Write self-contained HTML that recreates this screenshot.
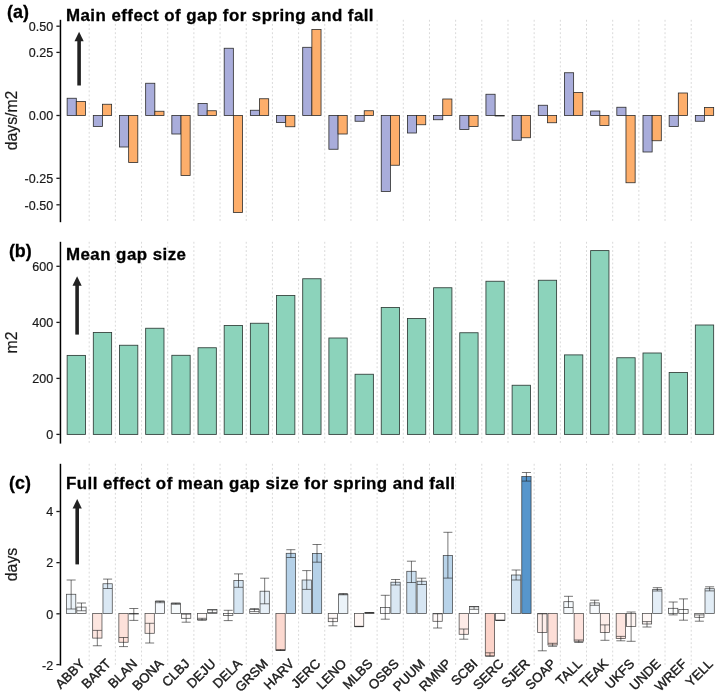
<!DOCTYPE html>
<html><head><meta charset="utf-8"><title>Gap effects</title>
<style>html,body{margin:0;padding:0;background:#fff}svg{display:block;will-change:transform}</style></head>
<body>
<svg width="720" height="696" viewBox="0 0 720 696">
<rect width="720" height="696" fill="#fff"/>
<g stroke="#d9d9d9" stroke-width="1" stroke-dasharray="1.9 2.25" fill="none">
<path d="M89.19 19.80V222.20"/>
<path d="M115.36 19.80V222.20"/>
<path d="M141.54 19.80V222.20"/>
<path d="M167.71 19.80V222.20"/>
<path d="M193.89 19.80V222.20"/>
<path d="M220.06 19.80V222.20"/>
<path d="M246.24 19.80V222.20"/>
<path d="M272.41 19.80V222.20"/>
<path d="M298.59 19.80V222.20"/>
<path d="M324.76 19.80V222.20"/>
<path d="M350.94 19.80V222.20"/>
<path d="M377.11 19.80V222.20"/>
<path d="M403.29 19.80V222.20"/>
<path d="M429.46 19.80V222.20"/>
<path d="M455.64 19.80V222.20"/>
<path d="M481.81 19.80V222.20"/>
<path d="M507.99 19.80V222.20"/>
<path d="M534.16 19.80V222.20"/>
<path d="M560.34 19.80V222.20"/>
<path d="M586.51 19.80V222.20"/>
<path d="M612.69 19.80V222.20"/>
<path d="M638.86 19.80V222.20"/>
<path d="M665.04 19.80V222.20"/>
<path d="M691.21 19.80V222.20"/>
<path d="M89.19 241.80V443.60"/>
<path d="M115.36 241.80V443.60"/>
<path d="M141.54 241.80V443.60"/>
<path d="M167.71 241.80V443.60"/>
<path d="M193.89 241.80V443.60"/>
<path d="M220.06 241.80V443.60"/>
<path d="M246.24 241.80V443.60"/>
<path d="M272.41 241.80V443.60"/>
<path d="M298.59 241.80V443.60"/>
<path d="M324.76 241.80V443.60"/>
<path d="M350.94 241.80V443.60"/>
<path d="M377.11 241.80V443.60"/>
<path d="M403.29 241.80V443.60"/>
<path d="M429.46 241.80V443.60"/>
<path d="M455.64 241.80V443.60"/>
<path d="M481.81 241.80V443.60"/>
<path d="M507.99 241.80V443.60"/>
<path d="M534.16 241.80V443.60"/>
<path d="M560.34 241.80V443.60"/>
<path d="M586.51 241.80V443.60"/>
<path d="M612.69 241.80V443.60"/>
<path d="M638.86 241.80V443.60"/>
<path d="M665.04 241.80V443.60"/>
<path d="M691.21 241.80V443.60"/>
<path d="M89.19 463.80V665.60"/>
<path d="M115.36 463.80V665.60"/>
<path d="M141.54 463.80V665.60"/>
<path d="M167.71 463.80V665.60"/>
<path d="M193.89 463.80V665.60"/>
<path d="M220.06 463.80V665.60"/>
<path d="M246.24 463.80V665.60"/>
<path d="M272.41 463.80V665.60"/>
<path d="M298.59 463.80V665.60"/>
<path d="M324.76 463.80V665.60"/>
<path d="M350.94 463.80V665.60"/>
<path d="M377.11 463.80V665.60"/>
<path d="M403.29 463.80V665.60"/>
<path d="M429.46 463.80V665.60"/>
<path d="M455.64 463.80V665.60"/>
<path d="M481.81 463.80V665.60"/>
<path d="M507.99 463.80V665.60"/>
<path d="M534.16 463.80V665.60"/>
<path d="M560.34 463.80V665.60"/>
<path d="M586.51 463.80V665.60"/>
<path d="M612.69 463.80V665.60"/>
<path d="M638.86 463.80V665.60"/>
<path d="M665.04 463.80V665.60"/>
<path d="M691.21 463.80V665.60"/>
</g>
<g stroke="#2b2b2b" stroke-width="0.8">
<rect x="67.14" y="98.25" width="9.16" height="17.25" fill="#a9addb"/>
<rect x="76.30" y="101.50" width="9.16" height="14.00" fill="#fdae6b"/>
<rect x="93.31" y="115.50" width="9.16" height="10.90" fill="#a9addb"/>
<rect x="102.47" y="104.25" width="9.16" height="11.25" fill="#fdae6b"/>
<rect x="119.49" y="115.50" width="9.16" height="31.50" fill="#a9addb"/>
<rect x="128.65" y="115.50" width="9.16" height="47.00" fill="#fdae6b"/>
<rect x="145.66" y="83.25" width="9.16" height="32.25" fill="#a9addb"/>
<rect x="154.82" y="111.25" width="9.16" height="4.25" fill="#fdae6b"/>
<rect x="171.84" y="115.50" width="9.16" height="18.50" fill="#a9addb"/>
<rect x="181.00" y="115.50" width="9.16" height="60.00" fill="#fdae6b"/>
<rect x="198.02" y="103.50" width="9.16" height="12.00" fill="#a9addb"/>
<rect x="207.18" y="110.75" width="9.16" height="4.75" fill="#fdae6b"/>
<rect x="224.19" y="48.25" width="9.16" height="67.25" fill="#a9addb"/>
<rect x="233.35" y="115.50" width="9.16" height="97.00" fill="#fdae6b"/>
<rect x="250.36" y="110.25" width="9.16" height="5.25" fill="#a9addb"/>
<rect x="259.52" y="98.75" width="9.16" height="16.75" fill="#fdae6b"/>
<rect x="276.54" y="115.50" width="9.16" height="7.00" fill="#a9addb"/>
<rect x="285.70" y="115.50" width="9.16" height="11.25" fill="#fdae6b"/>
<rect x="302.71" y="47.30" width="9.16" height="68.20" fill="#a9addb"/>
<rect x="311.88" y="29.40" width="9.16" height="86.10" fill="#fdae6b"/>
<rect x="328.89" y="115.50" width="9.16" height="33.75" fill="#a9addb"/>
<rect x="338.05" y="115.50" width="9.16" height="18.50" fill="#fdae6b"/>
<rect x="355.06" y="115.50" width="9.16" height="5.75" fill="#a9addb"/>
<rect x="364.23" y="110.75" width="9.16" height="4.75" fill="#fdae6b"/>
<rect x="381.24" y="115.50" width="9.16" height="76.00" fill="#a9addb"/>
<rect x="390.40" y="115.50" width="9.16" height="49.75" fill="#fdae6b"/>
<rect x="407.42" y="115.50" width="9.16" height="17.50" fill="#a9addb"/>
<rect x="416.58" y="115.50" width="9.16" height="9.25" fill="#fdae6b"/>
<rect x="433.59" y="115.50" width="9.16" height="4.25" fill="#a9addb"/>
<rect x="442.75" y="99.00" width="9.16" height="16.50" fill="#fdae6b"/>
<rect x="459.76" y="115.50" width="9.16" height="13.90" fill="#a9addb"/>
<rect x="468.93" y="115.50" width="9.16" height="10.90" fill="#fdae6b"/>
<rect x="485.94" y="94.25" width="9.16" height="21.25" fill="#a9addb"/>
<rect x="495.10" y="115.50" width="9.16" height="0.50" fill="#fdae6b"/>
<rect x="512.12" y="115.50" width="9.16" height="24.75" fill="#a9addb"/>
<rect x="521.27" y="115.50" width="9.16" height="22.25" fill="#fdae6b"/>
<rect x="538.29" y="105.25" width="9.16" height="10.25" fill="#a9addb"/>
<rect x="547.45" y="115.50" width="9.16" height="7.25" fill="#fdae6b"/>
<rect x="564.47" y="72.75" width="9.16" height="42.75" fill="#a9addb"/>
<rect x="573.62" y="92.40" width="9.16" height="23.10" fill="#fdae6b"/>
<rect x="590.64" y="111.00" width="9.16" height="4.50" fill="#a9addb"/>
<rect x="599.80" y="115.50" width="9.16" height="10.00" fill="#fdae6b"/>
<rect x="616.82" y="107.25" width="9.16" height="8.25" fill="#a9addb"/>
<rect x="625.98" y="115.50" width="9.16" height="67.25" fill="#fdae6b"/>
<rect x="642.99" y="115.50" width="9.16" height="36.50" fill="#a9addb"/>
<rect x="652.15" y="115.50" width="9.16" height="25.25" fill="#fdae6b"/>
<rect x="669.16" y="115.50" width="9.16" height="10.90" fill="#a9addb"/>
<rect x="678.32" y="93.00" width="9.16" height="22.50" fill="#fdae6b"/>
<rect x="695.34" y="115.50" width="9.16" height="5.75" fill="#a9addb"/>
<rect x="704.50" y="107.50" width="9.16" height="8.00" fill="#fdae6b"/>
</g>
<g stroke="#2f3c37" stroke-width="0.85" fill="#8cd3bb">
<rect x="67.14" y="355.40" width="18.32" height="79.00"/>
<rect x="93.31" y="332.50" width="18.32" height="101.90"/>
<rect x="119.49" y="345.25" width="18.32" height="89.15"/>
<rect x="145.66" y="328.25" width="18.32" height="106.15"/>
<rect x="171.84" y="355.30" width="18.32" height="79.10"/>
<rect x="198.02" y="347.75" width="18.32" height="86.65"/>
<rect x="224.19" y="325.50" width="18.32" height="108.90"/>
<rect x="250.36" y="323.25" width="18.32" height="111.15"/>
<rect x="276.54" y="295.50" width="18.32" height="138.90"/>
<rect x="302.71" y="278.75" width="18.32" height="155.65"/>
<rect x="328.89" y="338.00" width="18.32" height="96.40"/>
<rect x="355.06" y="374.25" width="18.32" height="60.15"/>
<rect x="381.24" y="307.50" width="18.32" height="126.90"/>
<rect x="407.42" y="318.50" width="18.32" height="115.90"/>
<rect x="433.59" y="287.75" width="18.32" height="146.65"/>
<rect x="459.76" y="332.75" width="18.32" height="101.65"/>
<rect x="485.94" y="281.25" width="18.32" height="153.15"/>
<rect x="512.12" y="385.25" width="18.32" height="49.15"/>
<rect x="538.29" y="280.25" width="18.32" height="154.15"/>
<rect x="564.47" y="354.90" width="18.32" height="79.50"/>
<rect x="590.64" y="250.60" width="18.32" height="183.80"/>
<rect x="616.82" y="357.75" width="18.32" height="76.65"/>
<rect x="642.99" y="353.00" width="18.32" height="81.40"/>
<rect x="669.16" y="372.50" width="18.32" height="61.90"/>
<rect x="695.34" y="325.00" width="18.32" height="109.40"/>
</g>
<g stroke="rgba(30,30,30,0.8)" stroke-width="0.75">
<rect x="66.50" y="594.25" width="9.30" height="19.25" fill="rgb(235,243,249)"/>
<rect x="76.80" y="607.10" width="9.30" height="6.40" fill="rgb(250,252,254)"/>
<rect x="92.67" y="613.50" width="9.30" height="24.60" fill="rgb(253,230,224)"/>
<rect x="102.97" y="583.75" width="9.30" height="29.75" fill="rgb(218,232,244)"/>
<rect x="118.85" y="613.50" width="9.30" height="28.75" fill="rgb(253,225,218)"/>
<rect x="129.15" y="613.50" width="9.30" height="0.50" fill="rgb(255,255,255)"/>
<rect x="145.02" y="613.50" width="9.30" height="19.80" fill="rgb(254,237,232)"/>
<rect x="155.32" y="601.30" width="9.30" height="12.20" fill="rgb(244,248,252)"/>
<rect x="171.20" y="603.30" width="9.30" height="10.20" fill="rgb(246,250,252)"/>
<rect x="181.50" y="613.50" width="9.30" height="4.80" fill="rgb(255,252,251)"/>
<rect x="197.38" y="613.50" width="9.30" height="6.20" fill="rgb(255,251,250)"/>
<rect x="207.68" y="609.50" width="9.30" height="4.00" fill="rgb(252,253,254)"/>
<rect x="223.55" y="613.50" width="9.30" height="1.90" fill="rgb(255,254,254)"/>
<rect x="233.85" y="580.50" width="9.30" height="33.00" fill="rgb(214,230,243)"/>
<rect x="249.72" y="609.40" width="9.30" height="4.10" fill="rgb(252,253,254)"/>
<rect x="260.02" y="591.20" width="9.30" height="22.30" fill="rgb(231,240,248)"/>
<rect x="275.90" y="613.50" width="9.30" height="37.00" fill="rgb(252,217,208)"/>
<rect x="286.20" y="553.30" width="9.30" height="60.20" fill="rgb(181,209,232)"/>
<rect x="302.08" y="580.00" width="9.30" height="33.50" fill="rgb(214,229,242)"/>
<rect x="312.38" y="553.40" width="9.30" height="60.10" fill="rgb(181,209,232)"/>
<rect x="328.25" y="613.50" width="9.30" height="8.20" fill="rgb(255,249,248)"/>
<rect x="338.55" y="594.20" width="9.30" height="19.30" fill="rgb(235,243,249)"/>
<rect x="354.43" y="613.50" width="9.30" height="13.00" fill="rgb(254,245,242)"/>
<rect x="364.73" y="612.70" width="9.30" height="0.80" fill="rgb(254,255,255)"/>
<rect x="380.60" y="607.50" width="9.30" height="6.00" fill="rgb(251,252,254)"/>
<rect x="390.90" y="582.20" width="9.30" height="31.30" fill="rgb(217,231,243)"/>
<rect x="406.78" y="571.30" width="9.30" height="42.20" fill="rgb(203,223,239)"/>
<rect x="417.08" y="581.20" width="9.30" height="32.30" fill="rgb(215,230,243)"/>
<rect x="432.95" y="613.50" width="9.30" height="7.80" fill="rgb(255,249,248)"/>
<rect x="443.25" y="555.50" width="9.30" height="58.00" fill="rgb(184,211,233)"/>
<rect x="459.13" y="613.50" width="9.30" height="20.80" fill="rgb(254,235,231)"/>
<rect x="469.43" y="606.60" width="9.30" height="6.90" fill="rgb(250,252,253)"/>
<rect x="485.30" y="613.50" width="9.30" height="42.40" fill="rgb(252,211,201)"/>
<rect x="495.60" y="613.50" width="9.30" height="6.80" fill="rgb(255,250,249)"/>
<rect x="511.48" y="575.00" width="9.30" height="38.50" fill="rgb(208,226,241)"/>
<rect x="521.77" y="476.50" width="9.30" height="137.00" fill="rgb(87,150,204)"/>
<rect x="537.65" y="613.50" width="9.30" height="19.00" fill="rgb(254,238,234)"/>
<rect x="547.95" y="613.50" width="9.30" height="31.50" fill="rgb(253,222,215)"/>
<rect x="563.83" y="601.70" width="9.30" height="11.80" fill="rgb(245,249,252)"/>
<rect x="574.12" y="613.50" width="9.30" height="27.80" fill="rgb(253,226,220)"/>
<rect x="590.00" y="602.90" width="9.30" height="10.60" fill="rgb(246,249,252)"/>
<rect x="600.30" y="613.50" width="9.30" height="18.90" fill="rgb(254,238,234)"/>
<rect x="616.18" y="613.50" width="9.30" height="25.10" fill="rgb(253,229,223)"/>
<rect x="626.48" y="613.50" width="9.30" height="13.00" fill="rgb(254,245,242)"/>
<rect x="642.35" y="613.50" width="9.30" height="10.50" fill="rgb(254,247,245)"/>
<rect x="652.65" y="589.50" width="9.30" height="24.00" fill="rgb(228,238,247)"/>
<rect x="668.52" y="608.30" width="9.30" height="5.20" fill="rgb(251,253,254)"/>
<rect x="678.82" y="609.60" width="9.30" height="3.90" fill="rgb(252,253,254)"/>
<rect x="694.70" y="613.50" width="9.30" height="3.80" fill="rgb(255,253,252)"/>
<rect x="705.00" y="588.70" width="9.30" height="24.80" fill="rgb(226,237,246)"/>
<path d="M66.65 580.00H75.65M71.15 580.00V609.00M66.65 609.00H75.65" fill="none"/>
<path d="M76.95 603.00H85.95M81.45 603.00V610.75M76.95 610.75H85.95" fill="none"/>
<path d="M92.82 630.40H101.82M97.32 630.40V645.75M92.82 645.75H101.82" fill="none"/>
<path d="M103.12 579.10H112.12M107.62 579.10V588.50M103.12 588.50H112.12" fill="none"/>
<path d="M119.00 637.50H128.00M123.50 637.50V646.60M119.00 646.60H128.00" fill="none"/>
<path d="M129.30 608.50H138.30M133.80 608.50V620.40M129.30 620.40H138.30" fill="none"/>
<path d="M145.17 623.30H154.17M149.67 623.30V643.00M145.17 643.00H154.17" fill="none"/>
<path d="M155.47 601.00H164.47M159.97 601.00V602.70M155.47 602.70H164.47" fill="none"/>
<path d="M171.35 603.00H180.35M175.85 603.00V604.30M171.35 604.30H180.35" fill="none"/>
<path d="M181.65 614.20H190.65M186.15 614.20V622.20M181.65 622.20H190.65" fill="none"/>
<path d="M197.53 618.30H206.53M202.03 618.30V620.30M197.53 620.30H206.53" fill="none"/>
<path d="M207.83 610.00H216.83M212.33 610.00V612.50M207.83 612.50H216.83" fill="none"/>
<path d="M223.70 610.30H232.70M228.20 610.30V620.60M223.70 620.60H232.70" fill="none"/>
<path d="M234.00 573.90H243.00M238.50 573.90V587.30M234.00 587.30H243.00" fill="none"/>
<path d="M249.87 608.60H258.88M254.37 608.60V611.60M249.87 611.60H258.88" fill="none"/>
<path d="M260.17 578.20H269.17M264.67 578.20V603.80M260.17 603.80H269.17" fill="none"/>
<path d="M276.05 649.50H285.05M280.55 649.50V650.50M276.05 650.50H285.05" fill="none"/>
<path d="M286.35 549.70H295.35M290.85 549.70V557.50M286.35 557.50H295.35" fill="none"/>
<path d="M302.23 570.60H311.23M306.73 570.60V589.40M302.23 589.40H311.23" fill="none"/>
<path d="M312.52 544.50H321.52M317.02 544.50V562.20M312.52 562.20H321.52" fill="none"/>
<path d="M328.40 618.30H337.40M332.90 618.30V625.80M328.40 625.80H337.40" fill="none"/>
<path d="M338.70 593.50H347.70M343.20 593.50V594.80M338.70 594.80H347.70" fill="none"/>
<path d="M354.58 626.30H363.58M359.08 626.30V626.70M354.58 626.70H363.58" fill="none"/>
<path d="M364.88 612.50H373.88M369.38 612.50V613.00M364.88 613.00H373.88" fill="none"/>
<path d="M380.75 595.30H389.75M385.25 595.30V619.20M380.75 619.20H389.75" fill="none"/>
<path d="M391.05 579.50H400.05M395.55 579.50V585.00M391.05 585.00H400.05" fill="none"/>
<path d="M406.93 561.20H415.93M411.43 561.20V582.50M406.93 582.50H415.93" fill="none"/>
<path d="M417.23 578.20H426.23M421.73 578.20V584.50M417.23 584.50H426.23" fill="none"/>
<path d="M433.10 613.80H442.10M437.60 613.80V628.00M433.10 628.00H442.10" fill="none"/>
<path d="M443.40 532.30H452.40M447.90 532.30V578.10M443.40 578.10H452.40" fill="none"/>
<path d="M459.28 629.00H468.28M463.78 629.00V639.20M459.28 639.20H468.28" fill="none"/>
<path d="M469.57 606.80H478.57M474.07 606.80V609.30M469.57 609.30H478.57" fill="none"/>
<path d="M485.45 652.80H494.45M489.95 652.80V656.30M485.45 656.30H494.45" fill="none"/>
<path d="M495.75 620.30H504.75M500.25 620.30V620.30M495.75 620.30H504.75" fill="none"/>
<path d="M511.62 570.00H520.62M516.12 570.00V580.00M511.62 580.00H520.62" fill="none"/>
<path d="M521.92 472.50H530.92M526.42 472.50V481.10M521.92 481.10H530.92" fill="none"/>
<path d="M537.80 613.80H546.80M542.30 613.80V650.80M537.80 650.80H546.80" fill="none"/>
<path d="M548.10 643.30H557.10M552.60 643.30V646.30M548.10 646.30H557.10" fill="none"/>
<path d="M563.98 596.30H572.98M568.48 596.30V607.50M563.98 607.50H572.98" fill="none"/>
<path d="M574.27 640.00H583.27M578.77 640.00V642.50M574.27 642.50H583.27" fill="none"/>
<path d="M590.15 600.20H599.15M594.65 600.20V605.30M590.15 605.30H599.15" fill="none"/>
<path d="M600.45 624.90H609.45M604.95 624.90V640.30M600.45 640.30H609.45" fill="none"/>
<path d="M616.33 636.40H625.33M620.83 636.40V640.80M616.33 640.80H625.33" fill="none"/>
<path d="M626.62 612.00H635.62M631.12 612.00V641.30M626.62 641.30H635.62" fill="none"/>
<path d="M642.50 621.60H651.50M647.00 621.60V627.00M642.50 627.00H651.50" fill="none"/>
<path d="M652.80 587.70H661.80M657.30 587.70V591.00M652.80 591.00H661.80" fill="none"/>
<path d="M668.67 602.00H677.67M673.17 602.00V614.90M668.67 614.90H677.67" fill="none"/>
<path d="M678.97 598.90H687.97M683.47 598.90V620.20M678.97 620.20H687.97" fill="none"/>
<path d="M694.85 614.90H703.85M699.35 614.90V621.20M694.85 621.20H703.85" fill="none"/>
<path d="M705.15 586.80H714.15M709.65 586.80V590.90M705.15 590.90H714.15" fill="none"/>
</g>
<g stroke="#000" stroke-width="1.5" fill="none">
<path d="M60.45 19.80V222.20"/>
<path d="M60.45 241.80V443.60"/>
<path d="M60.45 463.80V665.60"/>
</g>
<g stroke="#1a1a1a" stroke-width="1.3">
<path d="M56.4 26.20H59.8"/>
<path d="M56.4 52.40H59.8"/>
<path d="M56.4 115.50H59.8"/>
<path d="M56.4 178.30H59.8"/>
<path d="M56.4 204.80H59.8"/>
<path d="M56.4 266.30H59.8"/>
<path d="M56.4 322.40H59.8"/>
<path d="M56.4 378.40H59.8"/>
<path d="M56.4 434.40H59.8"/>
<path d="M56.4 511.50H59.8"/>
<path d="M56.4 562.65H59.8"/>
<path d="M56.4 613.80H59.8"/>
<path d="M56.4 664.60H59.8"/>
</g>
<g font-family="'Liberation Sans', Arial, sans-serif" fill="#1a1a1a">
<g font-size="12.5" text-anchor="end" stroke="#1a1a1a" stroke-width="0.2">
<text x="53.1" y="30.95">0.50</text>
<text x="53.1" y="57.15">0.25</text>
<text x="53.1" y="120.25">0.00</text>
<text x="53.1" y="183.05">-0.25</text>
<text x="53.1" y="209.55">-0.50</text>
<text x="53.1" y="271.05">600</text>
<text x="53.1" y="327.15">400</text>
<text x="53.1" y="383.15">200</text>
<text x="53.1" y="439.15">0</text>
<text x="53.1" y="516.25">4</text>
<text x="53.1" y="567.40">2</text>
<text x="53.1" y="618.55">0</text>
<text x="53.1" y="670.35">-2</text>
</g>
<g font-size="15.8" text-anchor="middle" stroke="#1a1a1a" stroke-width="0.2">
<text transform="translate(16.7 120.5) rotate(-90)">days/m2</text>
<text transform="translate(16.7 342.5) rotate(-90)">m2</text>
<text transform="translate(16.7 564.5) rotate(-90)">days</text>
</g>
<g font-size="13.2" text-anchor="end" stroke="#1a1a1a" stroke-width="0.4">
<text transform="translate(85.60 664.6) rotate(-45)">ABBY</text>
<text transform="translate(111.77 664.6) rotate(-45)">BART</text>
<text transform="translate(137.95 664.6) rotate(-45)">BLAN</text>
<text transform="translate(164.12 664.6) rotate(-45)">BONA</text>
<text transform="translate(190.30 664.6) rotate(-45)">CLBJ</text>
<text transform="translate(216.48 664.6) rotate(-45)">DEJU</text>
<text transform="translate(242.65 664.6) rotate(-45)">DELA</text>
<text transform="translate(268.82 664.6) rotate(-45)">GRSM</text>
<text transform="translate(295.00 664.6) rotate(-45)">HARV</text>
<text transform="translate(321.18 664.6) rotate(-45)">JERC</text>
<text transform="translate(347.35 664.6) rotate(-45)">LENO</text>
<text transform="translate(373.53 664.6) rotate(-45)">MLBS</text>
<text transform="translate(399.70 664.6) rotate(-45)">OSBS</text>
<text transform="translate(425.88 664.6) rotate(-45)">PUUM</text>
<text transform="translate(452.05 664.6) rotate(-45)">RMNP</text>
<text transform="translate(478.23 664.6) rotate(-45)">SCBI</text>
<text transform="translate(504.40 664.6) rotate(-45)">SERC</text>
<text transform="translate(530.57 664.6) rotate(-45)">SJER</text>
<text transform="translate(556.75 664.6) rotate(-45)">SOAP</text>
<text transform="translate(582.92 664.6) rotate(-45)">TALL</text>
<text transform="translate(609.10 664.6) rotate(-45)">TEAK</text>
<text transform="translate(635.27 664.6) rotate(-45)">UKFS</text>
<text transform="translate(661.45 664.6) rotate(-45)">UNDE</text>
<text transform="translate(687.62 664.6) rotate(-45)">WREF</text>
<text transform="translate(713.80 664.6) rotate(-45)">YELL</text>
</g>
<g font-weight="bold" fill="#000" stroke="#000" stroke-width="0.3">
<text x="7.0" y="17.7" font-size="17.9">(a)</text>
<text x="8.9" y="257.2" font-size="17.9">(b)</text>
<text x="9.1" y="489.3" font-size="17.9">(c)</text>
<text x="66.0" y="21.3" font-size="16.9" letter-spacing="0.45">Main effect of gap for spring and fall</text>
<text x="66.0" y="259.6" font-size="16.9" letter-spacing="0.45">Mean gap size</text>
<text x="66.0" y="488.6" font-size="16.9" letter-spacing="0.45">Full effect of mean gap size for spring and fall</text>
</g>
</g>
<path d="M79.10 85.50V39.30" stroke="#222" stroke-width="3.6" fill="none"/>
<path d="M79.10 31.80L83.70 41.30L74.50 41.30Z" fill="#222"/>
<path d="M77.10 334.60V283.70" stroke="#222" stroke-width="3.6" fill="none"/>
<path d="M77.10 276.20L81.70 285.70L72.50 285.70Z" fill="#222"/>
<path d="M77.20 564.40V506.40" stroke="#222" stroke-width="3.6" fill="none"/>
<path d="M77.20 498.90L81.80 508.40L72.60 508.40Z" fill="#222"/>
</svg>
</body></html>
